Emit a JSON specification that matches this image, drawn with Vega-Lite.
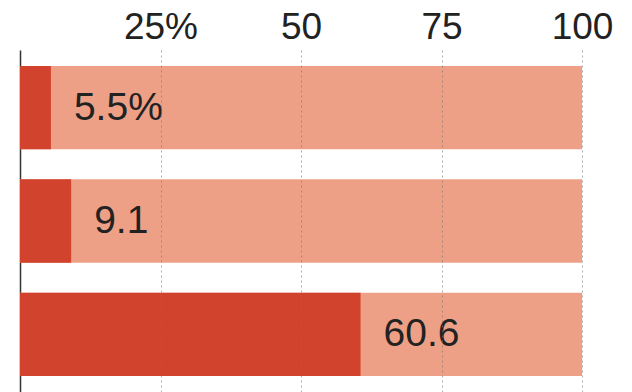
{
  "$schema": "https://vega.github.io/schema/vega-lite/v6.json",
  "width": 562,
  "height": 342,
  "autosize": {"type": "none"},
  "padding": {"left": 20, "top": 50, "right": 50, "bottom": 0},
  "background": "white",
  "config": {"view": {"stroke": null}},
  "data": {
    "values": [
      {"cat": "A", "value": 5.5, "label": "5.5%", "total": 100},
      {"cat": "B", "value": 9.1, "label": "9.1", "total": 100},
      {"cat": "C", "value": 60.6, "label": "60.6", "total": 100}
    ]
  },
  "encoding": {
    "y": {
      "field": "cat",
      "type": "nominal",
      "scale": {"paddingInner": 0.265, "paddingOuter": 0.14},
      "axis": {"title": null, "labels": false, "ticks": false, "domain": true, "domainColor": "#333", "domainWidth": 1.5, "grid": false}
    }
  },
  "layer": [
    {
      "mark": {"type": "bar", "color": "#eea086"},
      "encoding": {
        "x": {
          "field": "total",
          "type": "quantitative",
          "scale": {"domain": [0, 100], "nice": false},
          "axis": {
            "orient": "top",
            "title": null,
            "values": [25, 50, 75, 100],
            "labelExpr": "datum.value == 25 ? '25%' : datum.label",
            "labelFont": "Liberation Sans",
            "labelFontSize": 37,
            "labelColor": "#222",
            "labelPadding": 4,
            "labelFlush": false,
            "labelOverlap": false,
            "ticks": false,
            "domain": false,
            "grid": true,
            "gridColor": "#777",
            "gridOpacity": 0.6,
            "gridDash": [2, 3],
            "zindex": 1
          }
        }
      }
    },
    {
      "mark": {"type": "bar", "color": "#d1432d"},
      "encoding": {"x": {"field": "value", "type": "quantitative"}}
    },
    {
      "mark": {"type": "text", "align": "left", "baseline": "middle", "dx": 23, "font": "Liberation Sans", "fontSize": 39, "color": "#222"},
      "encoding": {
        "x": {"field": "value", "type": "quantitative"},
        "text": {"field": "label"}
      }
    }
  ]
}
